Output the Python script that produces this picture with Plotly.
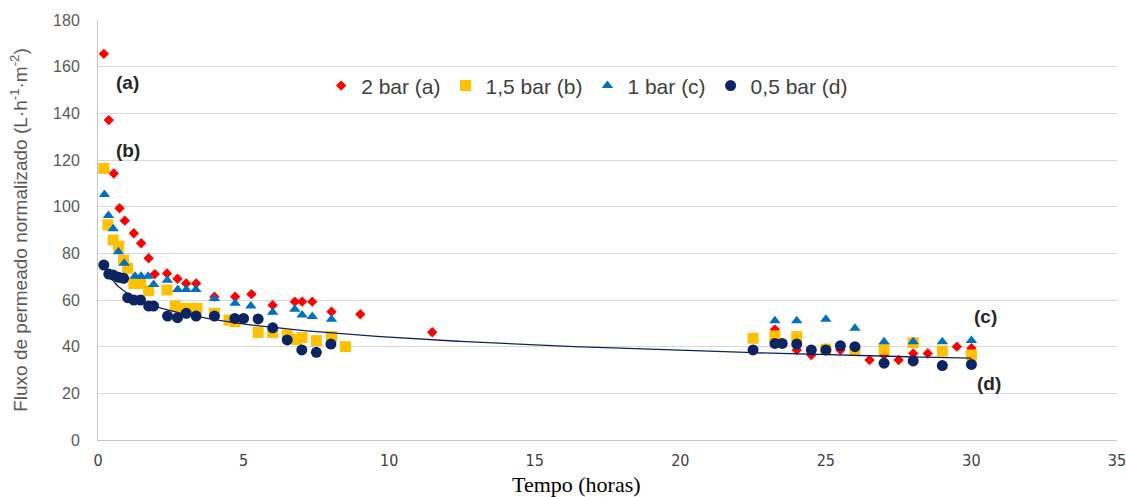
import numpy as np
import plotly.graph_objects as go

# ---- data ----
x_2bar = [0.2, 0.37, 0.54, 0.74, 0.92, 1.23, 1.48, 1.74, 1.95, 2.37, 2.73, 3.03, 3.37, 4.0, 4.71, 5.27,
          6.0, 6.76, 7.01, 7.36, 8.02, 9.01, 11.48, 23.25, 24.0, 24.5, 25.0, 25.5, 26.0, 26.5, 27.0,
          27.5, 28.0, 28.5, 29.5, 30.0]
y_2bar = [165.5, 137.1, 114.2, 99.3, 94.0, 88.6, 84.3, 77.9, 71.1, 71.4, 69.1, 67.1, 67.1, 61.4, 61.4, 62.5,
          57.8, 59.3, 59.3, 59.3, 55.0, 53.9, 46.2, 47.4, 38.6, 36.4, 39.2, 38.6, 39.5, 34.3, 36.4,
          34.3, 37.1, 37.1, 40.0, 39.3]

x_15bar = [0.2, 0.34, 0.52, 0.71, 0.88, 1.02, 1.23, 1.46, 1.74, 2.37, 2.65, 2.88, 3.17, 3.4, 4.0, 4.5,
           4.71, 5.5, 6.0, 6.5, 6.82, 7.01, 7.5, 8.02, 8.5, 22.5, 23.25, 24.0, 25.0, 26.0, 27.0, 28.0,
           29.0, 30.0]
y_15bar = [116.4, 92.2, 85.7, 83.1, 77.1, 73.6, 67.1, 67.1, 64.0, 64.3, 57.4, 56.4, 56.4, 56.4, 54.3, 51.4,
           50.7, 46.1, 46.1, 45.0, 43.1, 43.9, 42.6, 44.3, 40.0, 43.6, 44.6, 44.3, 38.9, 38.3, 38.9, 41.7,
           38.1, 36.4]

x_1bar = [0.22, 0.36, 0.52, 0.7, 0.9, 1.27, 1.48, 1.72, 1.91, 2.38, 2.74, 3.03, 3.36, 4.0, 4.71, 5.25,
          6.0, 6.76, 7.01, 7.36, 8.02, 23.25, 24.0, 25.0, 26.0, 27.0, 28.0, 29.0, 30.0]
y_1bar = [105.2, 96.2, 90.5, 80.7, 75.7, 70.2, 70.2, 70.2, 66.6, 68.5, 64.5, 64.5, 64.5, 60.6, 58.6, 57.4,
          54.7, 56.0, 53.6, 52.9, 51.7, 51.1, 51.1, 51.7, 47.9, 42.1, 42.1, 42.1, 42.6]

x_05bar = [0.2, 0.37, 0.52, 0.71, 0.88, 1.02, 1.23, 1.46, 1.74, 1.91, 2.39, 2.73, 3.03, 3.37, 4.0, 4.7,
           5.0, 5.5, 6.0, 6.5, 7.0, 7.5, 8.0, 22.5, 23.25, 23.5, 24.0, 24.5, 25.0, 25.5, 26.0, 27.0,
           28.0, 29.0, 30.0]
y_05bar = [75.0, 71.1, 70.7, 69.7, 69.3, 61.0, 60.0, 60.0, 57.4, 57.4, 53.1, 52.4, 54.3, 53.1, 53.1, 52.1,
           52.1, 51.9, 48.1, 42.9, 38.6, 37.6, 41.1, 38.6, 41.4, 41.4, 41.1, 38.6, 38.6, 40.4, 40.0, 32.9,
           33.9, 31.9, 32.4]

series_names = ["2 bar (a)", "1,5 bar (b)", "1 bar (c)", "0,5 bar (d)"]
y_ticks = list(range(0, 181, 20))
x_ticks = list(range(0, 36, 5))

# ---- logarithmic trend line of the 0.5 bar series ----
b, a = np.polyfit(np.log(x_05bar), y_05bar, 1)
x_trend = np.linspace(min(x_05bar), max(x_05bar), 300)
y_trend = a + b * np.log(x_trend)

NAVY = "#0d2463"
fig = go.Figure()
fig.add_trace(go.Scatter(x=x_2bar, y=y_2bar, mode="markers", name=series_names[0],
                         marker=dict(symbol="diamond", size=8, color="#ff0000")))
fig.add_trace(go.Scatter(x=x_15bar, y=y_15bar, mode="markers", name=series_names[1],
                         marker=dict(symbol="square", size=11, color="#ffc000")))
fig.add_trace(go.Scatter(x=x_1bar, y=y_1bar, mode="markers", name=series_names[2],
                         marker=dict(symbol="triangle-up", size=10, color="#0070c0")))
fig.add_trace(go.Scatter(x=x_05bar, y=y_05bar, mode="markers", name=series_names[3],
                         marker=dict(symbol="circle", size=11, color=NAVY)))
fig.add_trace(go.Scatter(x=x_trend, y=y_trend, mode="lines", showlegend=False,
                         line=dict(color=NAVY, width=1.3), hoverinfo="skip"))

lab_font = dict(family="Liberation Sans", size=19, color="#262626")
fig.update_layout(
    width=1126, height=497,
    margin=dict(l=98, r=9, t=20, b=57),
    plot_bgcolor="white", paper_bgcolor="white",
    font=dict(family="Liberation Sans", color="#595959"),
    legend=dict(orientation="h", x=0.219, y=0.843, xanchor="left", yanchor="middle",
                font=dict(family="Liberation Sans", size=21, color="#404040"),
                bgcolor="rgba(0,0,0,0)", itemwidth=30),
    xaxis=dict(range=[0, 35], tickvals=x_ticks, showgrid=False, zeroline=False,
               showline=True, linecolor="#c8c8c8", linewidth=1, automargin=False,
               tickfont=dict(family="Liberation Sans Narrow, DejaVu Sans Condensed, sans-serif",
                             size=16, color="#404040"),
               ticks="", ticklabelstandoff=6, ticklabeloverflow="allow"),
    yaxis=dict(range=[0, 180], tickvals=y_ticks, showgrid=True, gridcolor="#d9d9d9", gridwidth=1,
               zeroline=False, showline=True, linecolor="#c8c8c8", linewidth=1, automargin=False,
               tickfont=dict(family="Liberation Sans", size=16, color="#595959"),
               ticks="", ticklabelstandoff=14,
               title=dict(text="Fluxo de permeado normalizado (L·h<sup>-1</sup>·m<sup>-2</sup>)",
                          font=dict(family="Liberation Sans", size=19, color="#595959"),
                          standoff=20)),
    annotations=[
        dict(x=1.01, y=153.4, xref="x", yref="y", text="<b>(a)</b>", showarrow=False, font=lab_font),
        dict(x=1.04, y=123.9, xref="x", yref="y", text="<b>(b)</b>", showarrow=False, font=lab_font),
        dict(x=30.5, y=53.1, xref="x", yref="y", text="<b>(c)</b>", showarrow=False, font=lab_font),
        dict(x=30.6, y=24.4, xref="x", yref="y", text="<b>(d)</b>", showarrow=False, font=lab_font),
        dict(x=0.47, y=-0.107, xref="paper", yref="paper", text="Tempo (horas)", showarrow=False,
             xanchor="center", yanchor="middle",
             font=dict(family="Liberation Serif", size=22, color="#000000")),
    ],
)

fig.write_html("out.html", config={"displayModeBar": False},
               post_script="document.body.style.margin='0';document.body.style.overflow='hidden';")
